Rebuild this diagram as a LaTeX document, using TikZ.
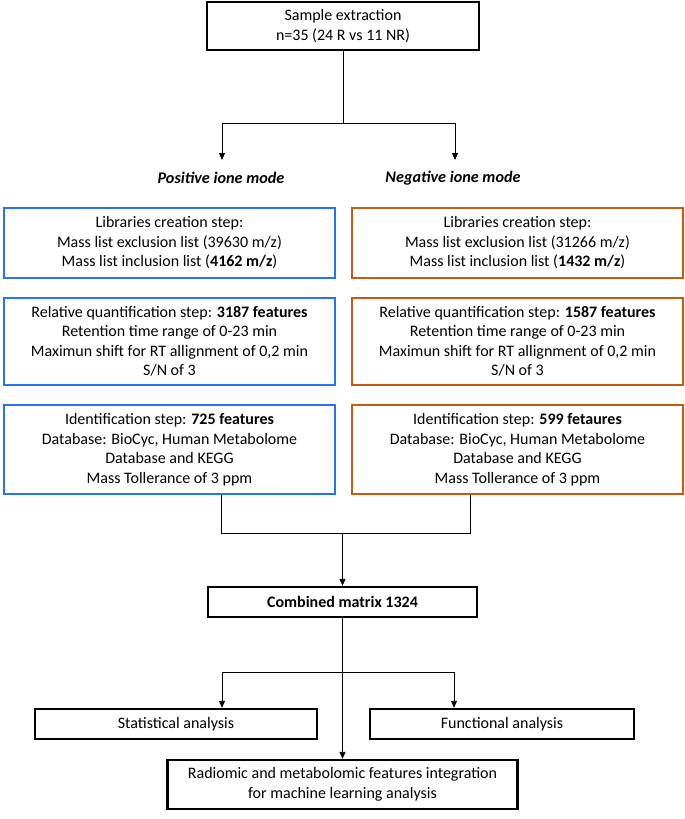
\documentclass[tikz,border=0pt]{standalone}
\usepackage{fontspec}
\setmainfont{Carlito}
\usetikzlibrary{arrows.meta}
\definecolor{posblue}{RGB}{40,115,245}
\definecolor{negorange}{RGB}{197,90,17}
\tikzset{
  box/.style={draw, line width=2.4pt, align=center, inner sep=0pt,
    font=\fontsize{16}{19.5}\selectfont},
  posbox/.style={box, draw=posblue, minimum width=331pt},
  negbox/.style={box, draw=negorange, minimum width=331pt},
  modelabel/.style={font=\fontsize{16.2}{18}\selectfont\bfseries\itshape},
  link/.style={line width=0.9pt},
  >={Triangle[length=7pt,width=6pt]}
}

\begin{document}
\begin{tikzpicture}[x=1pt, y=-1pt]
  \useasboundingbox (0,0) rectangle (685,819);

  \node[box, minimum width=272pt, minimum height=48pt] (sample) at (343,26)
    {Sample extraction\\n=35 (24 R vs 11 NR)};

  \node[modelabel] (posmode) at (221,178) {Positive ione mode};
  \node[modelabel] (negmode) at (453,178) {Negative ione mode};

  % positive ion mode column
  \node[posbox, minimum height=70pt] (poslib) at (169.5,243)
    {Libraries creation step:\\Mass list exclusion list (39630 m/z)\\Mass list inclusion list (\textbf{4162 m/z})};
  \node[posbox, minimum height=87pt] (posquant) at (169.5,341.5)
    {Relative quantification step: \textbf{3187 features}\\Retention time range of 0-23 min\\Maximun shift for RT allignment of 0,2 min\\S/N of 3};
  \node[posbox, minimum height=89pt] (posid) at (169.5,449.5)
    {Identification step: \textbf{725 features}\\Database: BioCyc, Human Metabolome\\Database and KEGG\\Mass Tollerance of 3 ppm};

  % negative ion mode column
  \node[negbox, minimum height=70pt] (neglib) at (517.5,243)
    {Libraries creation step:\\Mass list exclusion list (31266 m/z)\\Mass list inclusion list (\textbf{1432 m/z})};
  \node[negbox, minimum height=87pt] (negquant) at (517.5,341.5)
    {Relative quantification step: \textbf{1587 features}\\Retention time range of 0-23 min\\Maximun shift for RT allignment of 0,2 min\\S/N of 3};
  \node[negbox, minimum height=89pt] (negid) at (517.5,449.5)
    {Identification step: \textbf{599 fetaures}\\Database: BioCyc, Human Metabolome\\Database and KEGG\\Mass Tollerance of 3 ppm};

  \node[box, minimum width=269pt, minimum height=30pt] (combined) at (342.5,602)
    {\textbf{Combined matrix 1324}};

  \node[box, minimum width=282pt, minimum height=30pt] (stat) at (176,724)
    {Statistical analysis};
  \node[box, minimum width=264pt, minimum height=30pt] (func) at (502,724)
    {Functional analysis};
  \node[box, minimum width=350pt, minimum height=49pt] (radio) at (342.5,784.5)
    {Radiomic and metabolomic features integration\\for machine learning analysis};

  % connectors
  \coordinate (split) at (343,123);
  \coordinate (posend) at (222,160);
  \coordinate (negend) at (455,160);
  \draw[link] (sample.south) -- (split);
  \draw[link, ->] (split) -| (posend);
  \draw[link, ->] (split) -| (negend);

  \coordinate (mergeL) at (221,533);
  \coordinate (mergeR) at (470,533);
  \draw[link] (mergeL |- posid.south) -- (mergeL) -- (mergeR) -- (mergeR |- negid.south);
  \draw[link, ->] (combined.north |- mergeL) -- (combined.north);

  \coordinate (branchL) at (222,672);
  \coordinate (branchR) at (454,672);
  \draw[link, ->] (combined.south) -- (radio.north);
  \draw[link] (branchL) -- (branchR);
  \draw[link, ->] (branchL) -- (branchL |- stat.north);
  \draw[link, ->] (branchR) -- (branchR |- func.north);
\end{tikzpicture}
\end{document}
